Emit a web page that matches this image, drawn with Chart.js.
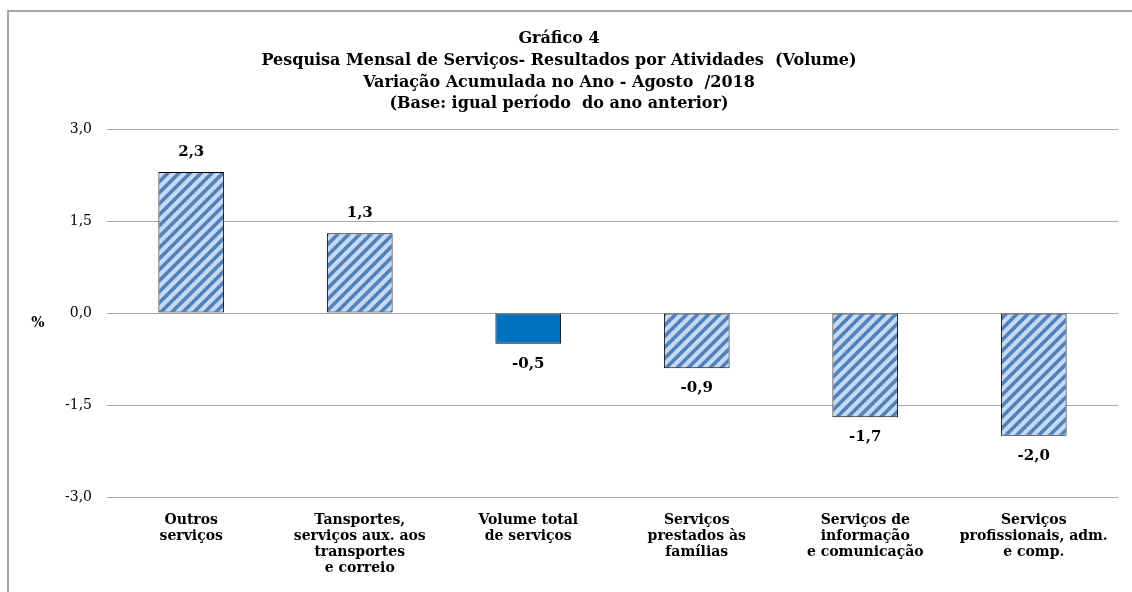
<!DOCTYPE html>
<html>
<head>
<meta charset="utf-8">
<script src="https://cdn.jsdelivr.net/npm/chart.js@4/dist/chart.umd.min.js"></script>
<style>
  html, body { margin: 0; padding: 0; background: #fff; overflow: hidden; }
  #wrap { width: 1132px; height: 592px; position: relative; }
</style>
</head>
<body>
<div id="wrap"><canvas id="chart" width="1132" height="592"></canvas></div>
<script>
const categories = [
    ['Outros', 'serviços'],
    ['Tansportes,', 'serviços aux. aos', 'transportes', 'e correio'],
    ['Volume total', 'de serviços'],
    ['Serviços', 'prestados às', 'famílias'],
    ['Serviços de', 'informação', 'e comunicação'],
    ['Serviços', 'profissionais, adm.', 'e comp.']
];
const values = [2.3, 1.3, -0.5, -0.9, -1.7, -2.0];
const yTicks = [-3.0, -1.5, 0.0, 1.5, 3.0];
const titleLines = [
    'Gráfico 4',
    'Pesquisa Mensal de Serviços- Resultados por Atividades  (Volume)',
    'Variação Acumulada no Ano - Agosto  /2018',
    '(Base: igual período  do ano anterior)'
];

const FONT = "'DejaVu Serif', 'Liberation Serif', serif";
const fmt = v => v.toFixed(1).replace('.', ',');

// diagonal stripe fill like the Excel pattern
function stripePattern() {
    const s = 11;
    const c = document.createElement('canvas');
    c.width = s; c.height = s;
    const g = c.getContext('2d');
    g.fillStyle = '#c6d9f1';
    g.fillRect(0, 0, s, s);
    g.strokeStyle = '#4f81bd';
    g.lineWidth = 3.6;
    g.beginPath();
    g.moveTo(-2, s + 2); g.lineTo(s + 2, -2);
    g.moveTo(-3, 3); g.lineTo(3, -3);
    g.moveTo(s - 3, s + 3); g.lineTo(s + 3, s - 3);
    g.stroke();
    return g.createPattern(c, 'repeat');
}

const ctx = document.getElementById('chart').getContext('2d');
const pattern = stripePattern();
const fills = values.map((v, i) => i === 2 ? '#0070c0' : pattern);

const framePlugin = {
    id: 'frame',
    beforeDraw(chart) {
        const c = chart.ctx;
        c.save();
        c.fillStyle = '#a6a6a6';
        c.fillRect(7, 10, 2, 582);
        c.fillRect(7, 10, 1125, 2);
        c.restore();
    }
};

const labelPlugin = {
    id: 'valueLabels',
    afterDatasetsDraw(chart) {
        const c = chart.ctx;
        const meta = chart.getDatasetMeta(0);
        c.save();
        c.font = 'bold 15px ' + FONT;
        c.fillStyle = '#000';
        c.textAlign = 'center';
        c.textBaseline = 'middle';
        meta.data.forEach((bar, i) => {
            const v = values[i];
            const y = v >= 0 ? bar.y - 20 : bar.y + 20;
            c.fillText(fmt(v), bar.x, y);
        });
        // the "%" axis title, written horizontally next to zero
        const y0 = chart.scales.y.getPixelForValue(0);
        c.font = 'bold 14px ' + FONT;
        c.fillText('%', 38, y0 + 10);
        c.restore();
    }
};

new Chart(ctx, {
    type: 'bar',
    data: {
        labels: categories,
        datasets: [{
            data: values,
            backgroundColor: fills,
            borderColor: '#000',
            borderWidth: 1,
            borderSkipped: false,
            categoryPercentage: 1.0,
            barPercentage: 0.39
        }]
    },
    options: {
        responsive: false,
        animation: false,
        layout: { padding: { top: 28, right: 14, bottom: 0, left: 0 } },
        plugins: {
            legend: { display: false },
            tooltip: { enabled: false },
            title: {
                display: true,
                text: titleLines,
                color: '#000',
                font: { family: FONT, size: 16, weight: 'bold', lineHeight: 1.36 },
                padding: { top: 0, bottom: 14 }
            }
        },
        scales: {
            x: {
                grid: { display: false, drawTicks: false },
                border: { display: false },
                ticks: {
                    color: '#000',
                    maxRotation: 0,
                    autoSkip: false,
                    padding: 15,
                    font: { family: FONT, size: 14, weight: 'bold', lineHeight: 1.15 }
                },
                afterFit(scale) { scale.height = 95; }
            },
            y: {
                min: -3,
                max: 3,
                afterBuildTicks(scale) { scale.ticks = yTicks.map(v => ({ value: v })); },
                grid: { color: '#a6a6a6', drawTicks: false },
                border: { display: false },
                ticks: {
                    color: '#000',
                    padding: 15,
                    font: { family: FONT, size: 14 },
                    callback: v => fmt(v)
                },
                afterFit(scale) { scale.width = 107; }
            }
        }
    },
    plugins: [framePlugin, labelPlugin]
});
</script>
</body>
</html>
